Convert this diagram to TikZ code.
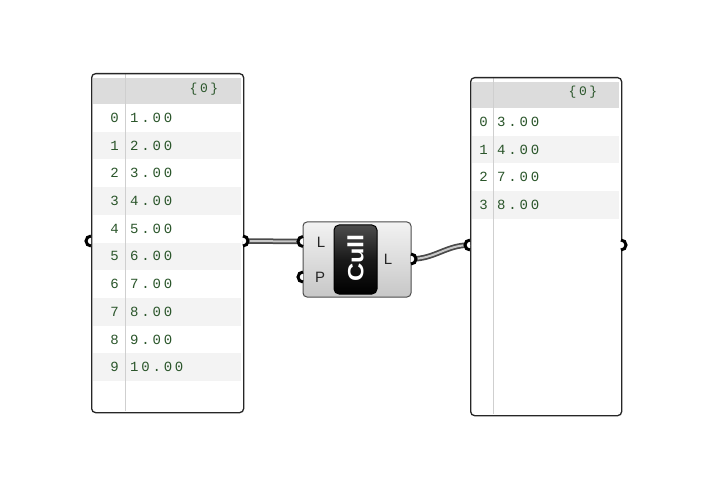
\documentclass[tikz,border=0pt]{standalone}
\usepackage{fontspec}
\newfontfamily\monof[LetterSpace=20]{Liberation Mono}
\newfontfamily\sansf{Liberation Sans}
\usetikzlibrary{calc}
\definecolor{txtgreen}{HTML}{2A552A}
\definecolor{hdrgray}{HTML}{DCDCDC}
\definecolor{rowgray}{HTML}{F3F3F3}
\definecolor{divgray}{HTML}{CFCFCF}
\definecolor{wiredark}{HTML}{4A4A4A}
\definecolor{wirelight}{HTML}{C8C8C8}
\tikzset{
  panelbox/.style={draw=black!85, line width=1.3pt, rounded corners=4pt, inner sep=0pt, anchor=north west},
  idx/.style={font=\monof\fontsize{14}{14}\selectfont, text=txtgreen, inner sep=0pt, anchor=east},
  val/.style={font=\monof\fontsize{14}{14}\selectfont, text=txtgreen, inner sep=0pt, anchor=west},
  hdr/.style={font=\monof\fontsize{13}{13}\selectfont, text=txtgreen, inner sep=0pt},
  gripline/.style={line width=3pt, draw=black},
  wireout/.style={line width=5.5pt, draw=wiredark},
  wirein/.style={line width=2pt, draw=wirelight},
  portlbl/.style={font=\sansf\fontsize{15}{15}\selectfont, text=black!85, inner sep=0pt},
  cullbox/.style={draw=black!70, line width=1pt, rounded corners=4pt, top color=white!95!black, bottom color=black!22, minimum width=108pt, minimum height=75pt, inner sep=0pt},
  cullbtn/.style={draw=black, line width=1pt, rounded corners=5pt, top color=black!70, bottom color=black, middle color=black!90, minimum width=43pt, minimum height=69pt, inner sep=0pt},
}
\begin{document}
\begin{tikzpicture}[x=1pt,y=-1pt]
\useasboundingbox[fill=white] (0,0) rectangle (712,489);

% ---------- left panel ----------
\fill[hdrgray] (93,78) rectangle (241,104);
\foreach \i in {1,3,5,7,9} {
  \fill[rowgray] (93,{104+\i*27.7}) rectangle (241,{104+(\i+1)*27.7});
}
\draw[divgray, line width=1pt] (125,74) -- (125,411);
\node[panelbox, minimum width=152pt, minimum height=339pt] (PL) at (91,73) {};
\node[hdr] (PLh) at (204,89) {\{0\}};
\foreach \i/\v in {0/1.00,1/2.00,2/3.00,3/4.00,4/5.00,5/6.00,6/7.00,7/8.00,8/9.00,9/10.00} {
  \node[idx] (PLi\i) at (119,{104+(\i+0.5)*27.7}) {\i};
  \node[val] (PLv\i) at (130,{104+(\i+0.5)*27.7}) {\v};
}

% ---------- right panel ----------
\fill[hdrgray] (472,82) rectangle (619,108);
\foreach \i in {1,3} {
  \fill[rowgray] (472,{108+\i*27.7}) rectangle (619,{108+(\i+1)*27.7});
}
\draw[divgray, line width=1pt] (493,78) -- (493,414);
\node[panelbox, minimum width=151pt, minimum height=338pt] (PR) at (470,77) {};
\node[hdr] (PRh) at (583,92) {\{0\}};
\foreach \i/\v in {0/3.00,1/4.00,2/7.00,3/8.00} {
  \node[idx] (PRi\i) at (488,{108+(\i+0.5)*27.7}) {\i};
  \node[val] (PRv\i) at (497,{108+(\i+0.5)*27.7}) {\v};
}

% ---------- Cull component ----------
\node[cullbox] (C) at (357,259.5) {};
\node[cullbtn] (B) at (355.5,259.5) {};
\node[rotate=90, text=white, inner sep=0pt, font=\sansf\bfseries\fontsize{22}{22}\selectfont] (BT) at (355.5,258) {\scalebox{1.15}[1]{Cull}};
\node[portlbl] (Lin) at (321,242) {L};
\node[portlbl] (Pin) at (320,277) {P};
\node[portlbl] (Lout) at (388,259) {L};

% grip coordinates
\coordinate (gPLin) at (91,241);
\coordinate (gPLout) at (243,241);
\coordinate (gCL) at (303,241.5);
\coordinate (gCP) at (303,277);
\coordinate (gCout) at (411,259);
\coordinate (gPRin) at (470,245);
\coordinate (gPRout) at (621,245);

% ---------- wires ----------
\draw[wireout] (gPLout) -- (gCL);
\draw[wirein] (gPLout) -- (gCL);
\draw[wireout] (gCout) .. controls +(24,0) and +(-24,0) .. (gPRin);
\draw[wirein] (gCout) .. controls +(24,0) and +(-24,0) .. (gPRin);

% ---------- grips ----------
\foreach \g in {gPLin,gCL,gCP,gPRin} {
  \fill[white] ($(\g)+(0,-5)$) arc[start angle=90, end angle=270, radius=5pt] -- cycle;
  \draw[gripline] ($(\g)+(0,-5)$) arc[start angle=90, end angle=270, radius=5pt];
}
\foreach \g in {gPLout,gCout,gPRout} {
  \fill[white] ($(\g)+(0,-5)$) arc[start angle=90, end angle=-90, radius=5pt] -- cycle;
  \draw[gripline] ($(\g)+(0,-5)$) arc[start angle=90, end angle=-90, radius=5pt];
}
\end{tikzpicture}
\end{document}
